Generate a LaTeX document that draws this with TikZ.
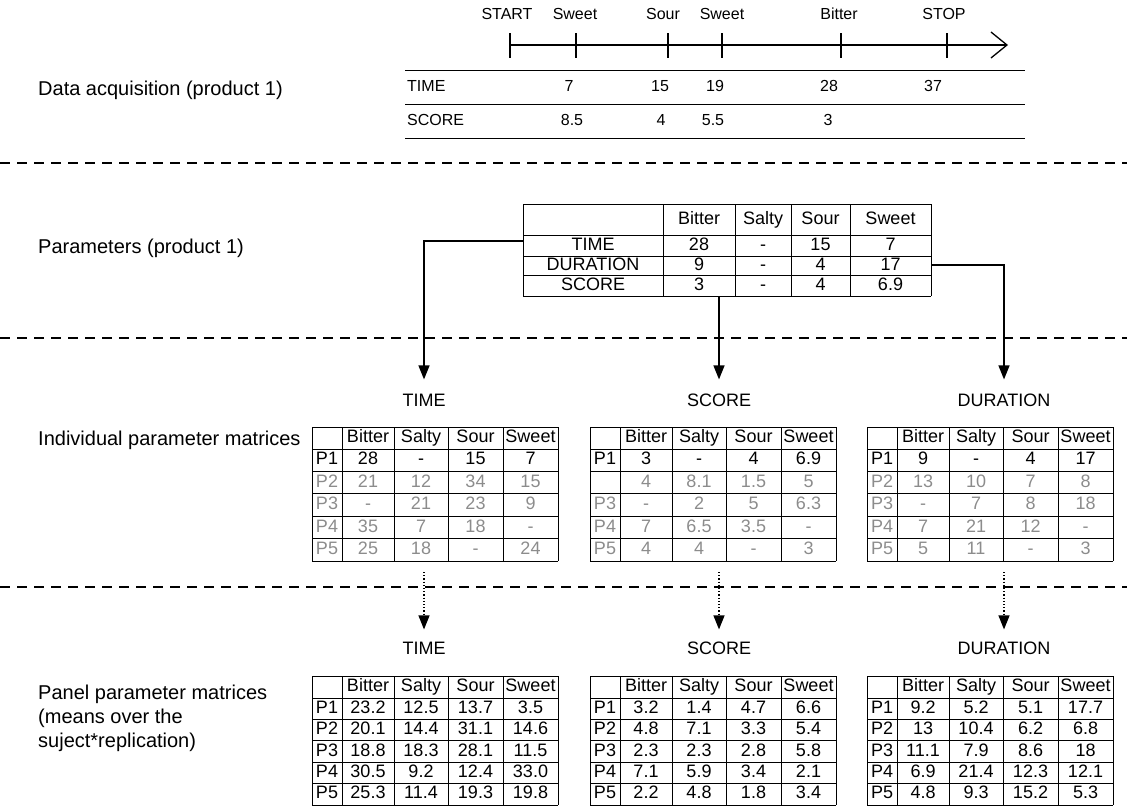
\documentclass[tikz,border=0pt]{standalone}
\usepackage{fontspec}
\setmainfont{Liberation Sans}
\usetikzlibrary{arrows.meta}
\definecolor{fadedtext}{RGB}{140,140,140}

\tikzset{
  sectionlabel/.style={anchor=west,align=left,inner sep=0pt,font=\fontsize{20}{24}\selectfont},
  celltext/.style={inner sep=0pt,text height=13pt,text depth=3.8pt,font=\fontsize{18}{20}\selectfont},
  timetext/.style={inner sep=0pt,text height=11.5pt,text depth=3.4pt,font=\fontsize{16}{18}\selectfont},
  septline/.style={line width=1.2pt,dash pattern=on 10pt off 7pt},
  gridline/.style={line width=0.9pt},
  flowarrow/.style={line width=1.4pt,-{Triangle[width=11pt,length=14pt]}},
  dotarrow/.style={line width=1.2pt,dotted,-{Triangle[width=11pt,length=14pt]}}
}

% #1 name, #2 left, #3 top, #4 row height, #5 colour of rows P2-P5, #6 rows
\newcommand{\tastetable}[6]{%
  \foreach \cx in {0,30,82,136,191,246}
    \draw[gridline] (#2+\cx,#3) -- (#2+\cx,#3+22+5*#4);
  \draw[gridline] (#2,#3) -- (#2+246,#3);
  \foreach \rr in {0,...,5}
    \draw[gridline] (#2,#3+22+\rr*#4) -- (#2+246,#3+22+\rr*#4);
  \foreach \hd [count=\j] in {Bitter,Salty,Sour,Sweet} {
    \pgfmathsetmacro{\cx}{#2+{15,56,109,163.5,218.5}[\j]}
    \node[celltext] (#1-0-\j) at (\cx,#3+11) {\hd};
  }
  \foreach \row [count=\i] in {#6} {
    \ifnum\i>1 \def\cellcol{#5}\else\def\cellcol{black}\fi
    \pgfmathsetmacro{\cy}{#3+22+(\i-0.5)*#4}
    \foreach \val [count=\j from 0] in \row {
      \pgfmathsetmacro{\cx}{#2+{15,56,109,163.5,218.5}[\j]}
      \node[celltext,text=\cellcol] (#1-\i-\j) at (\cx,\cy) {\val};
    }
  }
}

\begin{document}
\begin{tikzpicture}[x=1pt,y=-1pt]
\useasboundingbox (0,0) rectangle (1127,811);

% section labels
\node[sectionlabel] (sec-acq) at (38,90) {Data acquisition (product 1)};
\node[sectionlabel] (sec-par) at (38,248) {Parameters (product 1)};
\node[sectionlabel] (sec-ind) at (38,440) {Individual parameter matrices};
\node[sectionlabel] (sec-pan) at (38,718) {Panel parameter matrices\\(means over the\\suject*replication)};

% separators
\foreach \sy in {163,338,587}
  \draw[septline] (0,\sy) -- (1127,\sy);

% timeline
\draw[line width=1.3pt,-{Straight Barb[length=16pt,width=26pt]}] (510,45) -- (1008,45);
\foreach \tx in {510,576,668,722,841,947}
  \draw[line width=1.3pt] (\tx,33) -- (\tx,58);
\foreach \tx/\lname/\ltext in {507/start/START,575/sweeta/Sweet,663/sour/Sour,722/sweetb/Sweet,839/bitter/Bitter,944/stop/STOP}
  \node[timetext] (tl-\lname) at (\tx,15) {\ltext};
\foreach \ly in {70,104,138}
  \draw[gridline] (405,\ly) -- (1025,\ly);
\node[timetext,anchor=west] (acq-time) at (407,87) {TIME};
\node[timetext,anchor=west] (acq-score) at (407,121) {SCORE};
\foreach \tx/\ltext [count=\k] in {569/7,660/15,715/19,829/28,933/37}
  \node[timetext] (acq-t\k) at (\tx,87) {\ltext};
\foreach \tx/\ltext [count=\k] in {572/8.5,661/4,713/5.5,828/3}
  \node[timetext] (acq-s\k) at (\tx,121) {\ltext};

% parameter table
\foreach \px in {523,663,735,791,850,931}
  \draw[gridline] (\px,204) -- (\px,296);
\foreach \py in {204,235,256,275,296}
  \draw[gridline] (523,\py) -- (931,\py);
\foreach \px/\ltext [count=\k] in {699/Bitter,763/Salty,820.5/Sour,890.5/Sweet}
  \node[celltext] (par-h\k) at (\px,219.5) {\ltext};
\node[celltext] (par-time) at (593,245.5) {TIME};
\node[celltext] (par-dur) at (593,265.5) {DURATION};
\node[celltext] (par-score) at (593,285.5) {SCORE};
\foreach \px/\va/\vb/\vc [count=\k] in {699/28/9/3,763/-/-/-,820.5/15/4/4,890.5/7/17/6.9} {
  \node[celltext] (par-t\k) at (\px,245.5) {\va};
  \node[celltext] (par-d\k) at (\px,265.5) {\vb};
  \node[celltext] (par-s\k) at (\px,285.5) {\vc};
}
\coordinate (par-west) at (523,241);
\coordinate (par-east) at (931,265);
\coordinate (par-bottom) at (719,296);

% individual matrices
\node[celltext] (ilab-time) at (424,402) {TIME};
\node[celltext] (ilab-score) at (719,402) {SCORE};
\node[celltext] (ilab-dur) at (1004,402) {DURATION};
\draw[flowarrow,shorten >=14pt] (par-west) -| (ilab-time.north);
\draw[flowarrow,shorten >=14pt] (par-bottom) -- (par-bottom |- ilab-score.north);
\draw[flowarrow,shorten >=14pt] (par-east) -| (ilab-dur.north);

\tastetable{itime}{312}{427}{22.4}{fadedtext}{{P1,28,-,15,7},{P2,21,12,34,15},{P3,-,21,23,9},{P4,35,7,18,-},{P5,25,18,-,24}}
\tastetable{iscore}{590}{427}{22.4}{fadedtext}{{P1,3,-,4,6.9},{{},4,8.1,1.5,5},{P3,-,2,5,6.3},{P4,7,6.5,3.5,-},{P5,4,4,-,3}}
\tastetable{idur}{867}{427}{22.4}{fadedtext}{{P1,9,-,4,17},{P2,13,10,7,8},{P3,-,7,8,18},{P4,7,21,12,-},{P5,5,11,-,3}}

% panel matrices
\node[celltext] (plab-time) at (424,650) {TIME};
\node[celltext] (plab-score) at (719,650) {SCORE};
\node[celltext] (plab-dur) at (1004,650) {DURATION};
\coordinate (itime-bottom) at (424,560);
\coordinate (iscore-bottom) at (719,560);
\coordinate (idur-bottom) at (1004,560);
\draw[dotarrow,shorten <=12pt,shorten >=12pt] (itime-bottom) -- (plab-time.north);
\draw[dotarrow,shorten <=12pt,shorten >=12pt] (iscore-bottom) -- (plab-score.north);
\draw[dotarrow,shorten <=12pt,shorten >=12pt] (idur-bottom) -- (plab-dur.north);

\tastetable{ptime}{312}{676}{21.4}{black}{{P1,23.2,12.5,13.7,3.5},{P2,20.1,14.4,31.1,14.6},{P3,18.8,18.3,28.1,11.5},{P4,30.5,9.2,12.4,33.0},{P5,25.3,11.4,19.3,19.8}}
\tastetable{pscore}{590}{676}{21.4}{black}{{P1,3.2,1.4,4.7,6.6},{P2,4.8,7.1,3.3,5.4},{P3,2.3,2.3,2.8,5.8},{P4,7.1,5.9,3.4,2.1},{P5,2.2,4.8,1.8,3.4}}
\tastetable{pdur}{867}{676}{21.4}{black}{{P1,9.2,5.2,5.1,17.7},{P2,13,10.4,6.2,6.8},{P3,11.1,7.9,8.6,18},{P4,6.9,21.4,12.3,12.1},{P5,4.8,9.3,15.2,5.3}}
\end{tikzpicture}
\end{document}
